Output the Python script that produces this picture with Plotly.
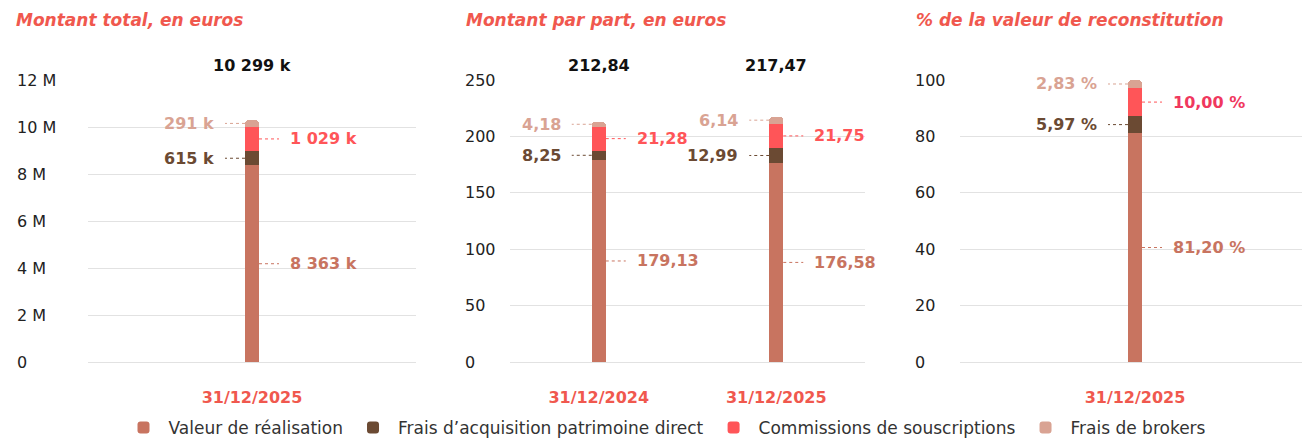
import plotly.graph_objects as go

FONT = "DejaVu Sans"

# ---------- data ----------
series_names = ["Valeur de réalisation", "Frais d’acquisition patrimoine direct",
                "Commissions de souscriptions", "Frais de brokers"]
series_colors = ["#C87460", "#6B4A33", "#FF5558", "#D9A393"]
label_colors = ["#C87460", "#6B4A33", "#FF5558", "#D9A393"]

p1_dates = ["31/12/2025"]
p1_valeur = [8363e3]
p1_acq = [615e3]
p1_comm = [1029e3]
p1_brokers = [291e3]
p1_totals = ["10 299 k"]

p2_dates = ["31/12/2024", "31/12/2025"]
p2_valeur = [179.13, 176.58]
p2_acq = [8.25, 12.99]
p2_comm = [21.28, 21.75]
p2_brokers = [4.18, 6.14]
p2_totals = ["212,84", "217,47"]

p3_dates = ["31/12/2025"]
p3_valeur = [81.20]
p3_acq = [5.97]
p3_comm = [10.00]
p3_brokers = [2.83]

titles = ["Montant total, en euros", "Montant par part, en euros", "% de la valeur de reconstitution"]
p1_ticks = [0, 2e6, 4e6, 6e6, 8e6, 10e6, 12e6]
p1_ticktext = ["0", "2 M", "4 M", "6 M", "8 M", "10 M", "12 M"]
p2_ticks = [0, 50, 100, 150, 200, 250]
p3_ticks = [0, 20, 40, 60, 80, 100]


def fmt_k(v):
    return f"{v/1000:,.0f}".replace(",", " ") + " k"


def fmt_dec(v):
    return f"{v:.2f}".replace(".", ",")


def fmt_pct(v):
    return fmt_dec(v) + " %"


W, H = 1310, 439
OFF = 8  # page body margin offset
TOP, BOT = 80 - OFF, 362 - OFF


def px(x):
    return (x - OFF) / W


panels = [
    dict(dates=p1_dates, data=[p1_valeur, p1_acq, p1_comm, p1_brokers], totals=p1_totals,
         fmt=fmt_k, ticks=p1_ticks, ticktext=p1_ticktext, rng=[0, 12e6],
         dom=[px(88), px(416)], tickx=px(15), barw=0.043),
    dict(dates=p2_dates, data=[p2_valeur, p2_acq, p2_comm, p2_brokers], totals=p2_totals,
         fmt=fmt_dec, ticks=p2_ticks, ticktext=[str(t) for t in p2_ticks], rng=[0, 250],
         dom=[px(510), px(865)], tickx=px(463), barw=0.079),
    dict(dates=p3_dates, data=[p3_valeur, p3_acq, p3_comm, p3_brokers], totals=None,
         fmt=fmt_pct, ticks=p3_ticks, ticktext=[str(t) for t in p3_ticks], rng=[0, 100],
         dom=[px(960), px(1310)], tickx=px(913), barw=0.04),
]
title_x = [px(14), px(464), px(914)]

fig = go.Figure()
annotations = []
shapes = []

for pi, p in enumerate(panels):
    xa = "x" if pi == 0 else f"x{pi+1}"
    ya = "y" if pi == 0 else f"y{pi+1}"
    xs = list(range(len(p["dates"])))
    for si, vals in enumerate(p["data"]):
        fig.add_trace(go.Bar(
            x=xs, y=vals, name=series_names[si], marker_color=series_colors[si],
            marker_line_width=0, width=p["barw"], xaxis=xa, yaxis=ya,
            showlegend=(pi == 0), legendgroup=series_names[si], hoverinfo="skip"))
    axn = "" if pi == 0 else str(pi + 1)
    fig.update_layout(**{
        f"xaxis{axn}": dict(domain=p["dom"], range=[-0.5, len(xs) - 0.5], tickvals=xs,
                            ticktext=p["dates"], showgrid=False, zeroline=False, showline=False,
                            ticks="", ticklabelstandoff=24, anchor=ya, automargin=False,
                            tickfont=dict(family=FONT, size=16, color="#F0584E", weight="bold")),
        f"yaxis{axn}": dict(domain=[0, 1], range=p["rng"], tickvals=p["ticks"], showticklabels=False,
                            gridcolor="#E2E2E2", gridwidth=1, zeroline=True, zerolinecolor="#E2E2E2",
                            zerolinewidth=1, showline=False, anchor=xa, automargin=False),
    })
    # y tick labels, left aligned
    for tv, tt in zip(p["ticks"], p["ticktext"]):
        annotations.append(dict(x=p["tickx"], xref="paper", y=tv, yref=ya, text=tt,
                                showarrow=False, xanchor="left", yanchor="middle",
                                font=dict(family=FONT, size=16, color="#222222")))
    # title
    annotations.append(dict(x=title_x[pi], xref="paper", y=1 + (TOP - (20 - OFF)) / (BOT - TOP),
                            yref="paper", text=f"<i>{titles[pi]}</i>", showarrow=False,
                            xanchor="left", yanchor="middle",
                            font=dict(family=FONT, size=17, color="#F0584E", weight=600)))
    # totals
    if p["totals"]:
        for xi, tt in zip(xs, p["totals"]):
            annotations.append(dict(x=xi, xref=xa, y=p["rng"][1], yref=ya, text=f"<b>{tt}</b>",
                                    showarrow=False, xanchor="center", yanchor="bottom", yshift=3,
                                    font=dict(family=FONT, size=16, color="#111111")))
    # value labels with dotted leaders
    sides = [1, -1, 1, -1]  # valeur right, acq left, comm right, brokers left
    for xi in xs:
        base = 0
        for si, vals in enumerate(p["data"]):
            v = vals[xi]
            mid = base + v / 2
            base += v
            s = sides[si]
            col = label_colors[si]
            if pi == 2 and si == 2:
                col = "#F0385E"
            annotations.append(dict(x=xi, xref=xa, y=mid, yref=ya, text=f"<b>{p['fmt'](v)}</b>",
                                    showarrow=False, xanchor="left" if s > 0 else "right",
                                    yanchor="middle", xshift=36 * s,
                                    font=dict(family=FONT, size=16, color=col)))
            shapes.append(dict(type="line", xref=xa, yref=ya, xsizemode="pixel", xanchor=xi,
                               x0=7 * s, x1=27 * s, y0=mid, y1=mid,
                               line=dict(color=series_colors[si], width=1, dash="dot")))

fig.update_layout(
    width=W, height=H,
    margin=dict(l=0, r=0, t=TOP, b=H - BOT, autoexpand=False),
    barmode="stack",
    barcornerradius=4,
    plot_bgcolor="white", paper_bgcolor="white",
    annotations=annotations, shapes=shapes,
    legend=dict(orientation="h", x=px(665), xanchor="center", yref="container",
                y=(H - (428 - OFF)) / H, yanchor="middle", itemwidth=40,
                font=dict(family=FONT, size=17, color="#333333"), traceorder="normal"),
    font=dict(family=FONT),
)

fig.write_html("out.html")
